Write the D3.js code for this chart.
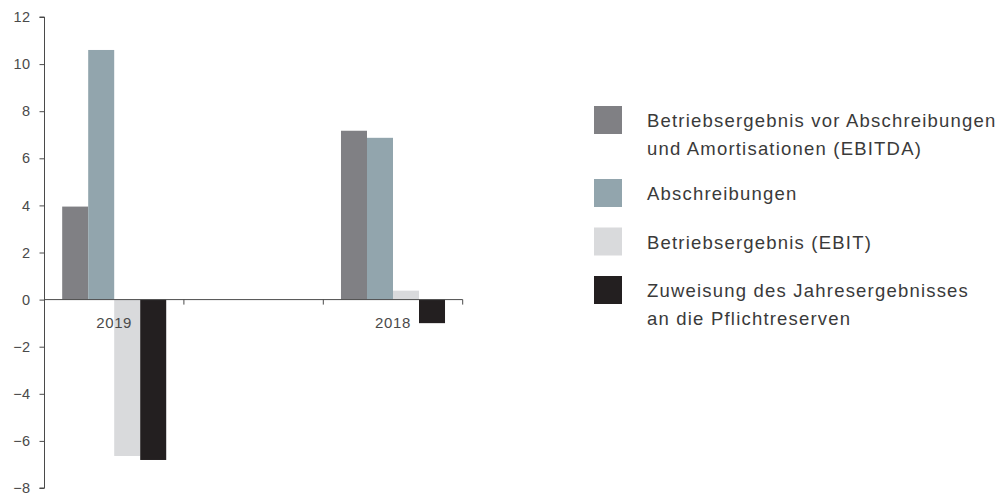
<!DOCTYPE html>
<html><head><meta charset="utf-8">
<script src="https://cdn.jsdelivr.net/npm/d3@7"></script>
<style>
html,body{margin:0;padding:0;background:#fff;}
svg{display:block;font-family:"Liberation Sans",Arial,sans-serif;}
</style></head>
<body><svg id="c" width="1002" height="495"></svg>
<script>
const categories = ["2019", "", "2018"];
const seriesNames = [
  ["Betriebsergebnis vor Abschreibungen", "und Amortisationen (EBITDA)"],
  ["Abschreibungen"],
  ["Betriebsergebnis (EBIT)"],
  ["Zuweisung des Jahresergebnisses", "an die Pflichtreserven"]
];
const ebitda = [3.95, null, 7.17];
const abschreibungen = [10.6, null, 6.87];
const ebit = [-6.64, null, 0.38];
const zuweisung = [-6.81, null, -1.0];
const yTicks = [12, 10, 8, 6, 4, 2, 0, -2, -4, -6, -8];
const colors = ["#808084", "#92a5ad", "#d9dadc", "#231f20"];

const series = [ebitda, abschreibungen, ebit, zuweisung];
const svg = d3.select("#c");
const x0 = 44.5, x1 = 462.7;
const axisColor = "#4a4a4a";
const y = d3.scaleLinear().domain([-8, 12]).range([488, 17]);
const x = d3.scaleBand().domain(categories.map((c, i) => i)).range([x0, x1]).paddingInner(0).paddingOuter(0);
const xs = d3.scaleBand().domain(d3.range(series.length)).range([0, x.bandwidth()]).paddingOuter(0.68).paddingInner(0);

const g = svg.append("g");
series.forEach((s, si) => {
  g.selectAll(null).data(s.map((v, i) => ({v, i})).filter(d => d.v !== null))
    .enter().append("rect")
    .attr("x", d => x(d.i) + xs(si))
    .attr("width", xs.bandwidth())
    .attr("y", d => Math.min(y(d.v), y(0)))
    .attr("height", d => Math.abs(y(d.v) - y(0)))
    .attr("fill", colors[si]);
});

// Y axis
const yAxis = d3.axisLeft(y).tickValues(yTicks).tickSize(5).tickPadding(9)
  .tickFormat(d => d < 0 ? "\u2212" + Math.abs(d) : d);
const ya = svg.append("g").attr("transform", `translate(${x0},0)`).call(yAxis);
ya.select(".domain").attr("stroke", axisColor).attr("d", `M-5,${y(12)}H0V${y(-8)}H-5`);
ya.selectAll(".tick line").attr("stroke", axisColor);
ya.selectAll(".tick text").attr("fill", axisColor).style("font-size", "14.5px")
  .style("letter-spacing", "0.4px")
  .style("font-family", "Liberation Sans, Arial, sans-serif");

// X axis at zero
const xa = svg.append("g").attr("transform", `translate(0,${y(0)})`);
xa.append("line").attr("x1", x0).attr("x2", x1).attr("stroke", axisColor);
const tickPos = categories.map((c, i) => x(i) + x.bandwidth());
xa.selectAll(".t").data(tickPos).enter().append("line")
  .attr("x1", d => d).attr("x2", d => d).attr("y1", 0).attr("y2", 5).attr("stroke", axisColor);
xa.selectAll(".lbl").data(categories).enter().append("text")
  .attr("x", (d, i) => x(i) + x.bandwidth() / 2)
  .attr("y", 28).attr("text-anchor", "middle")
  .attr("fill", axisColor).style("font-size", "15px").style("letter-spacing", "0.6px").text(d => d);

// Legend
const legY = [106, 179, 227.5, 276];
const lg = svg.append("g");
seriesNames.forEach((lines, i) => {
  lg.append("rect").attr("x", 594).attr("y", legY[i]).attr("width", 28).attr("height", 28).attr("fill", colors[i]);
  const t = lg.append("text").attr("x", 647).attr("y", legY[i] + 21)
    .attr("fill", "#3a3a3a").style("font-size", "18.5px").style("letter-spacing", "1.2px");
  lines.forEach((ln, j) => {
    t.append("tspan").attr("x", 647).attr("dy", j === 0 ? 0 : 27.6).text(ln);
  });
});
</script></body></html>
